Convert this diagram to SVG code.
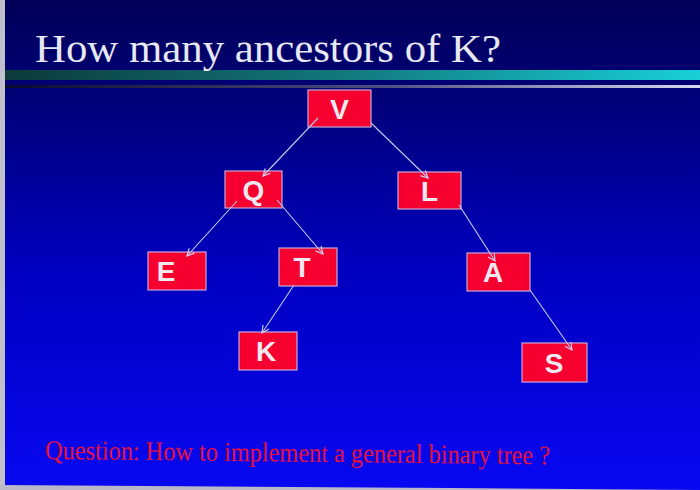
<svg xmlns="http://www.w3.org/2000/svg" width="700" height="490" viewBox="0 0 700 490">
<defs>
<linearGradient id="bg" x1="0" y1="0" x2="0" y2="1">
<stop offset="0" stop-color="#000058"/>
<stop offset="0.2" stop-color="#000078"/>
<stop offset="0.55" stop-color="#0000c0"/>
<stop offset="1" stop-color="#0808f2"/>
</linearGradient>
<linearGradient id="bar" x1="0" y1="0" x2="1" y2="0">
<stop offset="0" stop-color="#0c3a3a"/>
<stop offset="0.5" stop-color="#127a80"/>
<stop offset="1" stop-color="#18d0d8"/>
</linearGradient>
<linearGradient id="thin" x1="0" y1="0" x2="1" y2="0">
<stop offset="0" stop-color="#0a0a30"/>
<stop offset="0.55" stop-color="#505080"/>
<stop offset="1" stop-color="#d8d8f0"/>
</linearGradient>
<marker id="arr" viewBox="0 0 10 10" refX="9" refY="5" markerWidth="9" markerHeight="9" orient="auto" markerUnits="userSpaceOnUse">
<path d="M1,1 L9,5 L1,9" fill="none" stroke="#d0d0f4" stroke-width="1.3"/>
</marker>
</defs>
<style>
.node rect{fill:#f5002f;stroke:#c8a8d8;stroke-width:1.2}
.node text{font-family:"Liberation Sans",Arial,sans-serif;font-weight:bold;font-size:28px;fill:#f0e8f0;text-anchor:middle}
.edges line{stroke:#c8c8f0;stroke-width:1.1;marker-end:url(#arr)}
</style>
<rect x="0" y="0" width="700" height="490" fill="url(#bg)"/>
<rect x="0" y="0" width="5" height="490" fill="#c0c0cc"/>
<polygon points="0,485 450,488 700,490 0,490" fill="#b8b8c8"/>
<rect x="5" y="70" width="695" height="10" fill="url(#bar)"/>
<rect x="5" y="85" width="695" height="3" fill="url(#thin)"/>
<text x="35" y="62" font-family="'Liberation Serif','Times New Roman',serif" font-size="41" fill="#e8e8f2" textLength="466" lengthAdjust="spacingAndGlyphs">How many ancestors of K?</text>
<g id="V" class="node"><rect x="308" y="90" width="63" height="37"/><text x="339.5" y="118.5">V</text></g>
<g id="Q" class="node"><rect x="225" y="171" width="57" height="37"/><text x="253.5" y="199.5">Q</text></g>
<g id="L" class="node"><rect x="398" y="172" width="63" height="37"/><text x="429.5" y="200.5">L</text></g>
<g id="E" class="node"><rect x="148" y="252" width="58" height="38"/><text x="166" y="281">E</text></g>
<g id="T" class="node"><rect x="279" y="248" width="58" height="38"/><text x="302" y="277">T</text></g>
<g id="A" class="node"><rect x="467" y="253" width="63" height="38"/><text x="493" y="282">A</text></g>
<g id="K" class="node"><rect x="239" y="332" width="58" height="38"/><text x="266" y="361">K</text></g>
<g id="S" class="node"><rect x="522" y="343" width="65" height="39"/><text x="554" y="373">S</text></g>
<g class="edges">
<line x1="318" y1="118" x2="263" y2="176"/>
<line x1="371" y1="123" x2="428" y2="178"/>
<line x1="237" y1="201" x2="187" y2="256"/>
<line x1="277" y1="200" x2="323" y2="254"/>
<line x1="459" y1="205" x2="495" y2="261"/>
<line x1="294" y1="285" x2="262" y2="333"/>
<line x1="530" y1="290" x2="572" y2="350"/>
</g>
<text x="45" y="459" font-family="'Liberation Serif','Times New Roman',serif" font-size="27" fill="#e8103c" textLength="505" lengthAdjust="spacingAndGlyphs" transform="rotate(0.6 45 459)">Question: How to implement a general binary tree ?</text>
</svg>
